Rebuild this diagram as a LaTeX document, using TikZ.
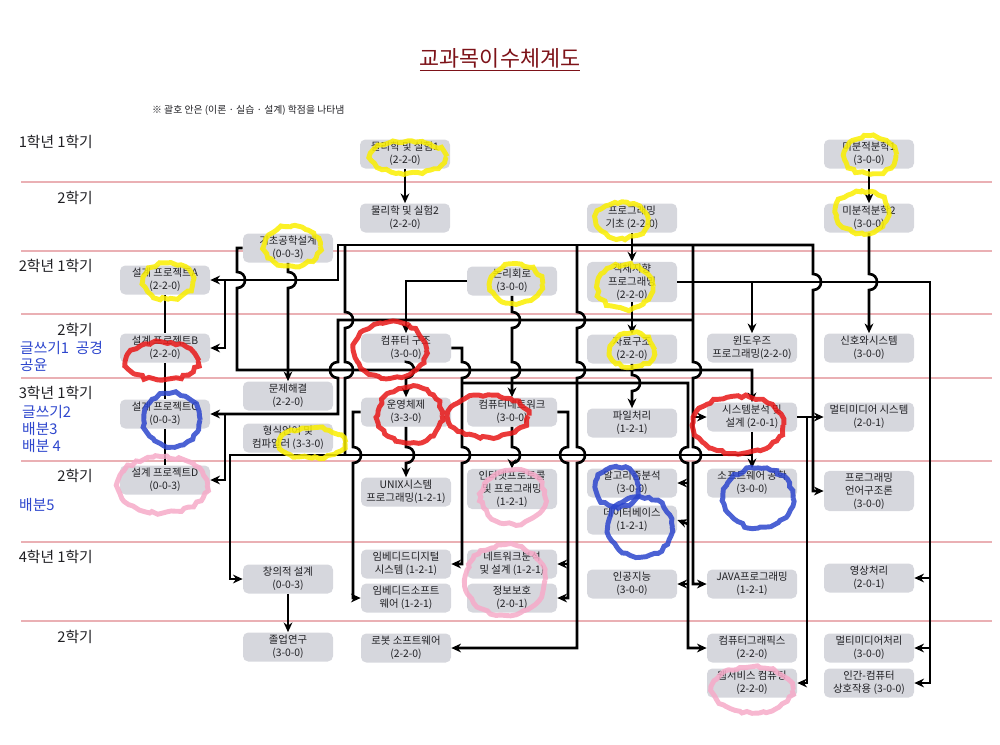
\documentclass[tikz,border=0pt]{standalone}
\usepackage{fontspec}
\setmainfont{Noto Sans CJK KR}
\usepackage{tikz}
\usetikzlibrary{
    positioning,
    arrows.meta,
    decorations.pathmorphing
}
\definecolor{boxgray}{RGB}{214,215,221}
\definecolor{textgray}{RGB}{32,32,36}
\definecolor{rowpink}{RGB}{234,176,180}
\definecolor{titlered}{RGB}{125,18,24}
\definecolor{penblue}{RGB}{45,70,205}
\definecolor{penyellow}{RGB}{250,238,0}
\definecolor{penred}{RGB}{232,24,24}
\definecolor{penpink}{RGB}{246,170,200}
\tikzset{
    >={Stealth[length=5.5pt,width=5pt]},
    course/.style={
        rounded corners=3pt,
        fill=boxgray,
        text=textgray,
        minimum width=18mm,
        minimum height=5.8mm,
        inner sep=1pt,
        align=center,
        font=\fontsize{5.9}{7.4}\selectfont
    },
    sem/.style={anchor=east, text=textgray, font=\fontsize{8.4}{10}\selectfont},
    memo/.style={anchor=west, text=penblue, font=\fontsize{8.4}{10}\selectfont},
    link/.style={line width=1.5pt},
    hopr/.style args={#1/#2}{insert path={-- (#1,#2-8) .. controls +(10.7,0) and +(10.7,0) .. (#1,#2+8)}},
    hopl/.style args={#1/#2}{insert path={-- (#1,#2-8) .. controls +(-10.7,0) and +(-10.7,0) .. (#1,#2+8)}},
    scrib/.style={draw=#1, line width=2.8pt, opacity=0.85, decorate,
        decoration={random steps, segment length=2.5pt, amplitude=0.9pt}}
}

\begin{document}
\begin{tikzpicture}[x=0.2mm, y=-0.2mm]
    \useasboundingbox (0,0) rectangle (1000,744);

    % 제목
    \node[text=titlered, font=\fontsize{12.4}{15}\selectfont] (title) at (500,60) {\underline{교과목이수체계도}};
    \node[anchor=west, text=textgray, font=\fontsize{5.6}{7}\selectfont] (note) at (146,110) {※ 괄호 안은 (이론 · 실습 · 설계) 학점을 나타냄};

    % 학기 구분선
    \foreach \y in {182,251,314,378,461,542,621}
        \draw[rowpink, line width=1.1pt] (21,\y) -- (992,\y);

    \node[sem] (s11) at (99,142) {1학년 1학기};
    \node[sem] (s12) at (99,198) {2학기};
    \node[sem] (s21) at (99,266) {2학년 1학기};
    \node[sem] (s22) at (99,330) {2학기};
    \node[sem] (s31) at (99,393) {3학년 1학기};
    \node[sem] (s32) at (99,476) {2학기};
    \node[sem] (s41) at (99,557) {4학년 1학기};
    \node[sem] (s42) at (99,637) {2학기};

    \node[memo] (m1) at (14,348) {글쓰기1 \ 공경};
    \node[memo] (m2) at (14,365) {공윤};
    \node[memo] (m3) at (16,412) {글쓰기2};
    \node[memo] (m4) at (16,429) {배분3};
    \node[memo] (m5) at (16,446) {배분 4};
    \node[memo] (m6) at (13,505) {배분5};

    % 과목
    \node[course] (phy1) at (405,154) {물리학 및 실험1\\(2-2-0)};
    \node[course] (phy2) at (405,218) {물리학 및 실험2\\(2-2-0)};
    \node[course] (cal1) at (869,154) {미분적분학1\\(3-0-0)};
    \node[course] (cal2) at (869,218) {미분적분학2\\(3-0-0)};
    \node[course] (pgb) at (632,218) {프로그래밍\\기초 (2-2-0)};
    \node[course] (gk) at (288,248) {기초공학설계\\(0-0-3)};
    \node[course] (sdA) at (165,280) {설계 프로젝트A\\(2-2-0)};
    \node[course] (logic) at (512,281) {논리회로\\(3-0-0)};
    \node[course] (oop) at (632,282) {객체지향\\프로그래밍\\(2-2-0)};
    \node[course] (sdB) at (165,348) {설계 프로젝트B\\(2-2-0)};
    \node[course] (arch) at (406,348) {컴퓨터 구조\\(3-0-0)};
    \node[course] (ds) at (632,349) {자료구조\\(2-2-0)};
    \node[course] (win) at (752,348) {윈도우즈\\프로그래밍(2-2-0)};
    \node[course] (sig) at (869,348) {신호와시스템\\(3-0-0)};
    \node[course] (prob) at (288,396) {문제해결\\(2-2-0)};
    \node[course] (flc) at (288,438) {형식언어 및\\컴파일러 (3-3-0)};
    \node[course] (sdC) at (165,414) {설계 프로젝트C\\(0-0-3)};
    \node[course] (os) at (406,412) {운영체제\\(3-3-0)};
    \node[course] (net) at (512,412) {컴퓨터네트워크\\(3-0-0)};
    \node[course] (file) at (632,423) {파일처리\\(1-2-1)};
    \node[course] (sad) at (752,417) {시스템분석 및\\설계 (2-0-1)};
    \node[course] (mms) at (869,417) {멀티미디어 시스템\\(2-0-1)};
    \node[course] (sdD) at (165,480) {설계 프로젝트D\\(0-0-3)};
    \node[course] (unix) at (406,492) {UNIX시스템\\프로그래밍(1-2-1)};
    \node[course] (inet) at (512,489) {인터넷프로토콜\\및 프로그래밍\\(1-2-1)};
    \node[course] (algo) at (632,483) {알고리즘분석\\(3-0-0)};
    \node[course] (db) at (632,520) {데이터베이스\\(1-2-1)};
    \node[course] (swe) at (752,483) {소프트웨어 공학\\(3-0-0)};
    \node[course] (pl) at (869,491) {프로그래밍\\언어구조론\\(3-0-0)};
    \node[course] (cre) at (288,579) {창의적 설계\\(0-0-3)};
    \node[course] (emds) at (406,564) {임베디드디지털\\시스템 (1-2-1)};
    \node[course] (emsw) at (406,598) {임베디드소프트\\웨어 (1-2-1)};
    \node[course] (nad) at (512,564) {네트워크분석\\및 설계 (1-2-1)};
    \node[course] (sec) at (512,598) {정보보호\\(2-0-1)};
    \node[course] (ai) at (632,584) {인공지능\\(3-0-0)};
    \node[course] (java) at (752,584) {JAVA프로그래밍\\(1-2-1)};
    \node[course] (img) at (869,578) {영상처리\\(2-0-1)};
    \node[course] (grad) at (288,647) {졸업연구\\(3-0-0)};
    \node[course] (robot) at (406,648) {로봇 소프트웨어\\(2-2-0)};
    \node[course] (cg) at (752,648) {컴퓨터그래픽스\\(2-2-0)};
    \node[course] (mmp) at (869,648) {멀티미디어처리\\(3-0-0)};
    \node[course] (web) at (752,683) {웹서비스 컴퓨팅\\(2-2-0)};
    \node[course] (hci) at (869,683) {인간-컴퓨터\\상호작용 (3-0-0)};

    % 연결선
    \coordinate (bus) at (632,245);
    \draw[link,->] (phy1.south) -- (phy2.north);
    \draw[link,->] (cal1.south) -- (cal2.north);
    \draw[link,->] (cal2.south) [hopr={869/282}] -- (sig.north);
    \draw[link,->] (pgb.south) -- (oop.north);
    \draw[link,->] (oop.south) -- (ds.north);
    \draw[link,->] (ds.south) [hopr={632/383}] -- (file.north);

    \draw[link,->] (bus) -| (338,280) -- (sdA.east);
    \draw[link,->] (225,280) |- (sdB.east);
    \draw[link] (sdA.south) -- (sdB.north) (sdB.south) -- (sdC.north) (sdC.south) -- (sdD.north);
    \draw[link,->] (bus) -- (813,245) [hopr={813/282}] -- (813,491) -- (pl.west);
    \draw[link] (345,245) [hopr={345/320}] [hopr={345/370}] -- (345,455);
    \draw[link,->] (577,245) [hopr={577/320}] [hopr={577/370}] [hopr={577/455}] -- (577,648) -- (robot.east);
    \draw[link,->] (693,245) [hopr={693/370}] [hopr={693/455}] -- (693,584) -- (java.west);
    \draw[link,->] (693,417) -- (sad.west);

    \draw[link,->] (gk.south) [hopr={288/280}] -- (prob.north);
    \draw[link,->] (gk.west) -- (237,248) [hopr={237/280}] -- (237,370) -- (752,370) -- (sad.north);

    \draw[link,->] (oop.east) -- (930,282) -- (930,683) -- (hci.east);
    \draw[link,->] (930,578) -- (img.east);
    \draw[link,->] (930,648) -- (mmp.east);
    \draw[link,->] (752,282) -- (win.north);

    \draw[link,->] (693,320) -- (338,320) [hopl={338/370}] -- (338,414) -- (sdC.east);
    \draw[link,->] (225,414) |- (sdD.east);

    \draw[link,->] (logic.west) -| (arch.north);
    \draw[link,->] (logic.south) [hopr={512/320}] [hopr={512/370}] -- (net.north);

    \draw[link,->] (arch.south) [hopr={406/370}] -- (os.north);
    \draw[link,->] (arch.east) -- (462,348) [hopr={462/370}] [hopr={462/455}] -- (462,564) -- (emds.east);
    \draw[link,->] (462,383) -- (688,383) [hopl={688/455}] -- (688,648) -- (cg.west);
    \draw[link,->] (688,483) -- (algo.east);
    \draw[link,->] (688,524) -- (db.east);
    \draw[link,->] (688,584) -- (ai.east);

    \draw[link,->] (os.south) [hopr={406/455}] -- (unix.north);
    \draw[link,->] (os.west) -- (353,412) [hopr={353/455}] -- (353,598) -- (emsw.west);

    \draw[link,->] (net.south) [hopr={512/455}] -- (inet.north);
    \draw[link,->] (net.east) -- (568,412) [hopl={568/455}] -- (568,598) -- (sec.east);
    \draw[link,->] (568,564) -- (nad.east);

    \draw[link,->] (sad.south) -- (swe.north);
    \draw[link,->] (sad.east) -- (mms.west);
    \draw[link,->] (807,417) -- (807,683) -- (web.east);

    \draw[link,->] (345,455) -- (230,455) -- (230,579) -- (cre.west);
    \draw[link] (345,455) -- (752,455);
    \draw[link,->] (cre.south) -- (grad.north);

    % 손으로 그린 표시
    \foreach \cx/\cy/\rx/\ry in {408/157/38/16, 870/155/26/19, 862/212/27/21, 622/220/26/18,
        292/246/28/20, 168/281/25/18, 516/284/26/20, 625/287/28/22, 632/350/22/17, 312/443/33/15}
        \draw[scrib=penyellow] (\cx,\cy) ellipse [x radius=\rx, y radius=\ry];
    \foreach \cx/\cy/\rx/\ry in {162/361/36/19, 390/350/36/28, 410/415/32/28, 488/416/40/21, 738/425/45/29}
        \draw[scrib=penred] (\cx,\cy) ellipse [x radius=\rx, y radius=\ry];
    \foreach \cx/\cy/\rx/\ry in {172/420/28/27, 617/487/22/20, 640/527/32/30, 758/498/35/30}
        \draw[scrib=penblue] (\cx,\cy) ellipse [x radius=\rx, y radius=\ry];
    \foreach \cx/\cy/\rx/\ry in {162/485/45/28, 513/497/32/27, 505/580/40/35, 752/690/40/23}
        \draw[scrib=penpink] (\cx,\cy) ellipse [x radius=\rx, y radius=\ry];

\end{tikzpicture}
\end{document}
